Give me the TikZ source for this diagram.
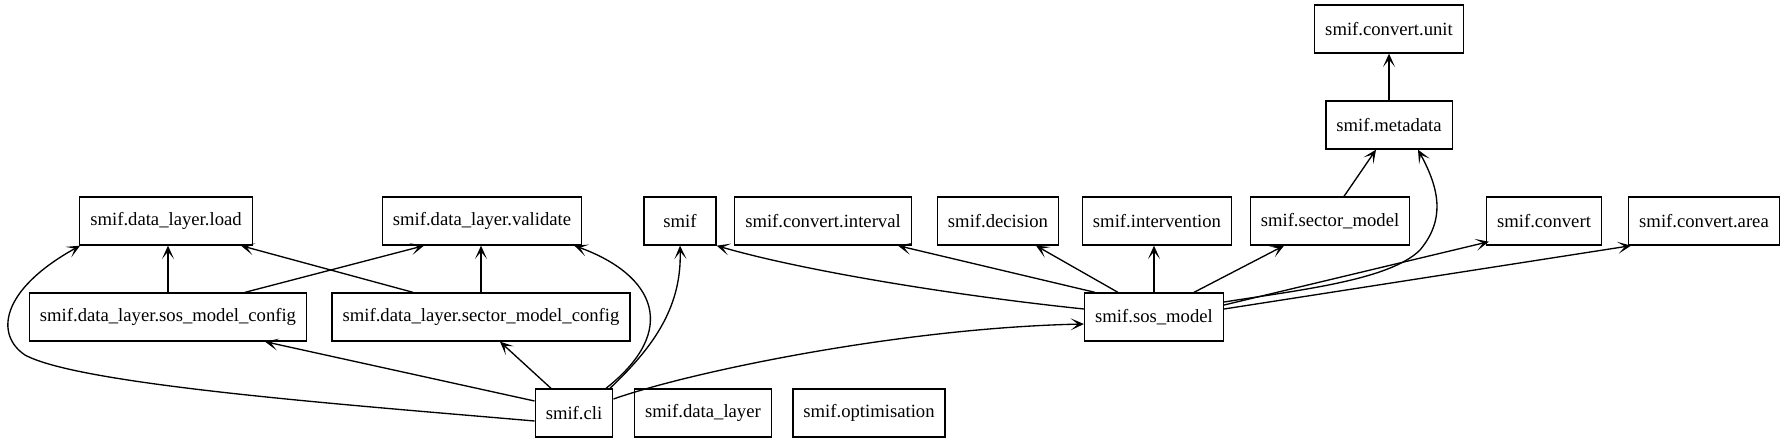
\documentclass[tikz,border=0pt]{standalone}
\usepackage{fontspec}
\setmainfont{Liberation Serif}
\newfontfamily\boxfont{Liberation Serif}
\usetikzlibrary{arrows.meta,calc}
\begin{document}
\begin{tikzpicture}[x=0.75pt,y=-0.75pt,
  box/.style={draw,line width=1pt,font=\boxfont\fontsize{14pt}{16pt}\selectfont,minimum height=36pt,minimum width=54pt,inner xsep=7.92pt,inner ysep=0pt},
  dep/.style={line width=1pt,-{Stealth[length=10pt,width=9pt,inset=5.5pt]}}]
\useasboundingbox (0,0) rectangle (1782,443);
\node[box] (unit) at (1389,29) {smif.convert.unit};
\node[box] (meta) at (1389,125) {smif.metadata};
\node[box] (load) at (166,221) {smif.data\_layer.load};
\node[box] (valid) at (482,221) {smif.data\_layer.validate};
\node[box] (smif) at (680,221) {smif};
\node[box] (interval) at (823,221) {smif.convert.interval};
\node[box] (decision) at (998,221) {smif.decision};
\node[box] (interv) at (1157,221) {smif.intervention};
\node[box] (sector) at (1330,221) {smif.sector\_model};
\node[box] (convert) at (1544,221) {smif.convert};
\node[box] (area) at (1704,221) {smif.convert.area};
\node[box] (sosc) at (168,317) {smif.data\_layer.sos\_model\_config};
\node[box] (secc) at (481,317) {smif.data\_layer.sector\_model\_config};
\node[box] (sos) at (1154,317) {smif.sos\_model};
\node[box] (cli) at (574,413) {smif.cli};
\node[box] (dl) at (703,413) {smif.data\_layer};
\node[box] (opt) at (869,413) {smif.optimisation};
% data layer
\draw[dep] (sosc.north) -- (sosc.north |- load.south);
\draw[dep] ($(sosc.north)+(77,0)$) -- ($(valid.south)+(-58,0)$);
\draw[dep] ($(secc.north)+(-68,0)$) -- ($(load.south)+(75,0)$);
\draw[dep] (secc.north) -- (secc.north |- valid.south);
% cli
\draw[dep] ($(cli.west)+(0,8)$) .. controls (350,405) and (80,385) .. (25,355) .. controls (-5,335) and (0,290) .. ($(load.south west)+(1,0)$);
\draw[dep] ($(cli.west)+(0,-12)$) -- ($(sosc.south)+(97,0)$);
\draw[dep] ($(cli.north)+(-23,0)$) -- ($(secc.south)+(19,0)$);
\draw[dep] ($(cli.north)+(32,0)$) .. controls (680,330) and (655,275) .. ($(valid.south east)+(-8,0)$);
\draw[dep] ($(cli.north)+(36,0)$) .. controls (650,350) and (682,310) .. (smif.south);
\draw[dep] ($(cli.east)+(0,-14)$) .. controls (690,372) and (900,328) .. ($(sos.west)+(0,7)$);
% sos_model
\draw[dep] ($(sos.west)+(0,-8)$) .. controls (950,295) and (800,270) .. (smif.south east);
\draw[dep] ($(sos.north west)+(11,0)$) -- ($(interval.south)+(75,0)$);
\draw[dep] ($(sos.north west)+(34,0)$) -- ($(decision.south)+(38,0)$);
\draw[dep] (sos.north) -- (sos.north |- interv.south);
\draw[dep] ($(sos.north)+(40,0)$) -- ($(sector.south)+(-46,0)$);
\draw[dep] ($(sos.east)+(0,-15)$) .. controls (1300,290) and (1390,280) .. (1420,250) .. controls (1445,220) and (1440,190) .. ($(meta.south)+(29,0)$);
\draw[dep] ($(sos.east)+(0,-12)$) -- ($(convert.south west)+(3,-4)$);
\draw[dep] ($(sos.east)+(0,-8)$) -- ($(area.south west)+(3,0)$);
% sector_model, metadata
\draw[dep] ($(sector.north)+(14,0)$) -- ($(meta.south)+(-13,0)$);
\draw[dep] (meta.north) -- (unit.south);
\end{tikzpicture}
\end{document}
